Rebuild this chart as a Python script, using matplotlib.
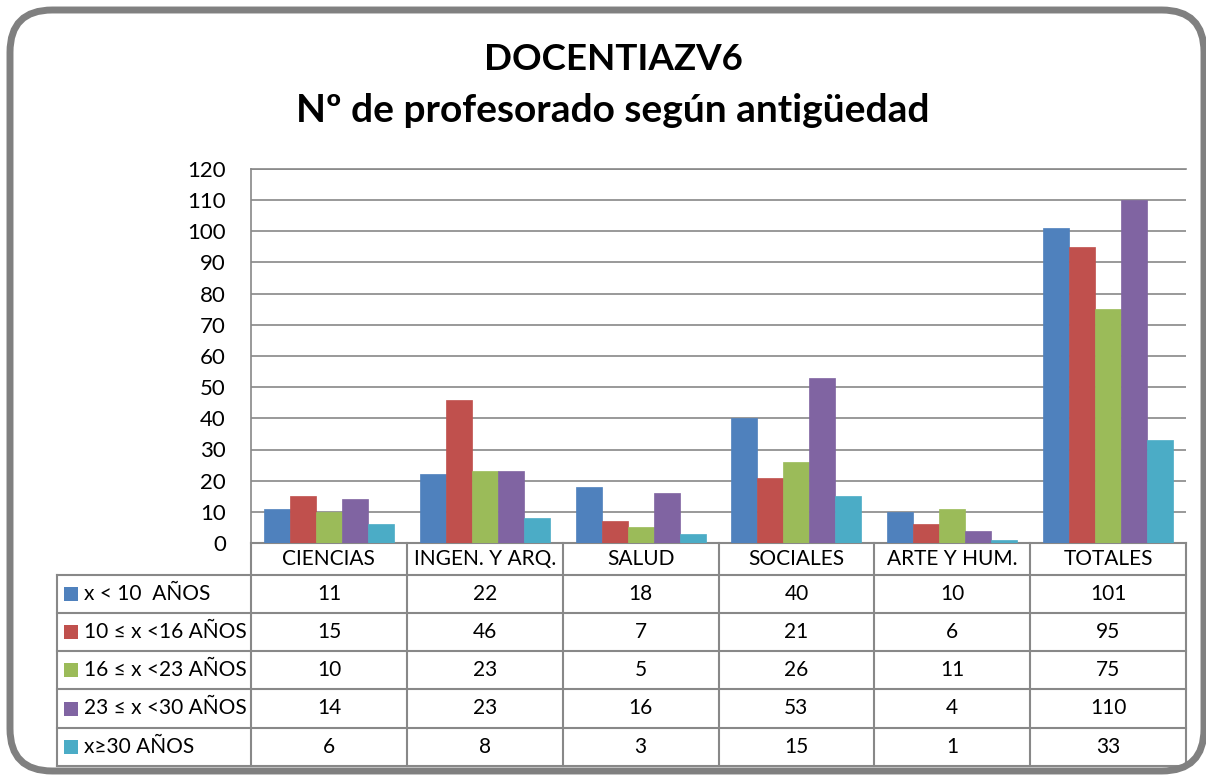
import matplotlib.pyplot as plt
import numpy as np
from matplotlib.patches import FancyBboxPatch, Rectangle

plt.rcParams['font.family'] = ['Lato', 'DejaVu Sans']

categories = ["CIENCIAS", "INGEN. Y ARQ.", "SALUD", "SOCIALES", "ARTE Y HUM.", "TOTALES"]
series_names = ["x < 10  AÑOS", "10 ≤ x <16 AÑOS", "16 ≤ x <23 AÑOS", "23 ≤ x <30 AÑOS", "x≥30 AÑOS"]
lt10 = [11, 22, 18, 40, 10, 101]
r10_16 = [15, 46, 7, 21, 6, 95]
r16_23 = [10, 23, 5, 26, 11, 75]
r23_30 = [14, 23, 16, 53, 4, 110]
ge30 = [6, 8, 3, 15, 1, 33]
series = [lt10, r10_16, r16_23, r23_30, ge30]
colors = ["#4F81BD", "#C0504D", "#9BBB59", "#8064A2", "#4BACC6"]
grid_c = "#888888"

W, H = 1206, 776
fig = plt.figure(figsize=(W / 100, H / 100), dpi=100)

# plot area in pixels
x0, x1, ytop, ybot = 251, 1186, 169, 543
ax = fig.add_axes([x0 / W, 1 - ybot / H, (x1 - x0) / W, (ybot - ytop) / H])

n = len(categories)
x = np.arange(n)
bw = 1 / 6
for i, (vals, c) in enumerate(zip(series, colors)):
    ax.bar(x + (i - 2) * bw, vals, bw, color=c, edgecolor=c, linewidth=0.5, zorder=3)

ax.set_xlim(-0.5, n - 0.5)
ax.set_ylim(0, 120)
ax.set_yticks(np.arange(0, 121, 10))
ax.set_xticks([])
ax.tick_params(axis='y', length=0, pad=18, labelsize=16)
ax.yaxis.grid(True, color=grid_c, linewidth=1.2, zorder=0)
for s in ['right', 'bottom']:
    ax.spines[s].set_visible(False)
for s in ['left', 'top']:
    ax.spines[s].set_color(grid_c)
    ax.spines[s].set_linewidth(1.2)


def fx(px):
    return (px - x0) / (x1 - x0)


def fy(py):
    return (ybot - py) / (ybot - ytop)


tr = ax.transAxes
lkw = dict(color=grid_c, linewidth=1.5, transform=tr, clip_on=False)

# data table under the chart
col_w = (x1 - x0) / n
row_lines = [575, 613, 651, 689, 728, 766]
ax.plot([fx(x0), fx(x1)], [fy(543), fy(543)], **lkw)
for ry in row_lines:
    ax.plot([fx(57), fx(x1)], [fy(ry), fy(ry)], **lkw)
ax.plot([fx(57), fx(57)], [fy(575), fy(766)], **lkw)
for j in range(n + 1):
    cx = x0 + j * col_w
    ax.plot([fx(cx), fx(cx)], [fy(543), fy(766)], **lkw)

for j, cat in enumerate(categories):
    cx = x0 + (j + 0.5) * col_w
    ax.text(fx(cx), fy(559), cat, ha='center', va='center', fontsize=15, transform=tr)

for i, (name, vals, c) in enumerate(zip(series_names, series, colors)):
    cy = (row_lines[i] + row_lines[i + 1]) / 2
    ax.add_patch(Rectangle((fx(64), fy(cy + 7)), 14 / (x1 - x0), 14 / (ybot - ytop),
                           facecolor=c, edgecolor='none', transform=tr, clip_on=False))
    ax.text(fx(84), fy(cy), name, ha='left', va='center', fontsize=15, transform=tr)
    for j, v in enumerate(vals):
        cx = x0 + (j + 0.5) * col_w
        ax.text(fx(cx), fy(cy), str(v), ha='center', va='center', fontsize=15, transform=tr)

# title
fig.text(613 / W, 1 - 60 / H, "DOCENTIAZV6", ha='center', va='center',
         fontsize=26.5, fontweight='bold')
fig.text(613 / W, 1 - 110 / H, "Nº de profesorado según antigüedad", ha='center', va='center',
         fontsize=28, fontweight='bold')

# rounded chart border
frame = FancyBboxPatch((10 / W, 1 - 771 / H), 1194 / W, 761 / H,
                       boxstyle="round,pad=0,rounding_size=0.035",
                       transform=fig.transFigure, facecolor='none',
                       edgecolor='#808080', linewidth=5, mutation_aspect=W / H)
fig.patches.append(frame)

fig.savefig("out.png", dpi=100)
